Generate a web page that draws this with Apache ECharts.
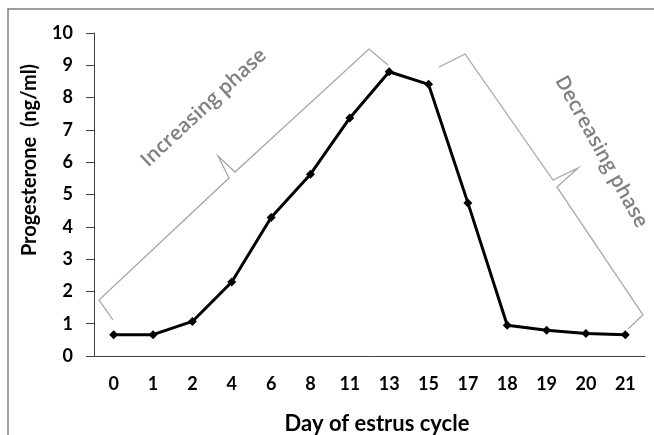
<!DOCTYPE html>
<html>
<head>
<meta charset="utf-8">
<script src="https://cdn.jsdelivr.net/npm/echarts@6/dist/echarts.min.js"></script>
<style>
  html, body { margin: 0; padding: 0; background: #fff; }
  #chart { width: 654px; height: 435px; }
</style>
</head>
<body>
<div id="chart"></div>
<script>
const days = ["0", "1", "2", "4", "6", "8", "11", "13", "15", "17", "18", "19", "20", "21"];
const progesterone = [0.66, 0.66, 1.07, 2.29, 4.29, 5.63, 7.37, 8.8, 8.41, 4.74, 0.95, 0.8, 0.7, 0.66];
const yTicks = [0, 1, 2, 3, 4, 5, 6, 7, 8, 9, 10];

const chart = echarts.init(document.getElementById("chart"));
const axisColor = "#404040";
const braceColor = "#a6a6a6";
const font = "Lato, 'Open Sans', sans-serif";
const phaseFont = "'Open Sans', Lato, sans-serif";

const option = {
  animation: false,
  grid: { left: 94, right: 9, top: 33, bottom: 79 },
  xAxis: {
    type: "category",
    data: days,
    boundaryGap: true,
    axisLine: { lineStyle: { color: axisColor, width: 1 } },
    axisTick: { alignWithLabel: false, length: 6, lineStyle: { color: axisColor } },
    axisLabel: { color: "#000", fontFamily: font, fontWeight: "bold", fontSize: 18, margin: 19 },
    splitLine: { show: false }
  },
  yAxis: {
    type: "value",
    min: yTicks[0],
    max: yTicks[yTicks.length - 1],
    interval: 1,
    axisLine: { show: true, lineStyle: { color: axisColor, width: 1 } },
    axisTick: { show: true, length: 8, lineStyle: { color: axisColor } },
    axisLabel: { color: "#000", fontFamily: font, fontWeight: "bold", fontSize: 18, margin: 21 },
    splitLine: { show: false }
  },
  series: [
    {
      name: "Progesterone",
      type: "line",
      data: progesterone,
      symbol: "diamond",
      symbolSize: 9,
      lineStyle: { color: "#000", width: 3 },
      itemStyle: { color: "#000" }
    }
  ],
  graphic: [
    {
      type: "rect",
      shape: { x: 8, y: 9, width: 700, height: 500 },
      style: { fill: "none", stroke: "#7f7f7f", lineWidth: 1.5 },
      silent: true
    },
    {
      type: "polyline",
      shape: { points: [[113, 320], [99, 300], [229, 178], [218, 156], [235, 172], [369, 49], [388, 65]] },
      style: { fill: "none", stroke: braceColor, lineWidth: 1.3 },
      silent: true
    },
    {
      type: "polyline",
      shape: { points: [[439, 67], [465, 54], [553, 180], [578, 168], [557, 187], [643, 315], [628, 329]] },
      style: { fill: "none", stroke: braceColor, lineWidth: 1.3 },
      silent: true
    },
    {
      type: "text",
      x: 204, y: 108,
      rotation: 43 * Math.PI / 180,
      style: { text: "Increasing phase", fill: "#808080", font: "600 20px " + phaseFont, textAlign: "center", textVerticalAlign: "middle" },
      silent: true
    },
    {
      type: "text",
      x: 601, y: 152,
      rotation: -61 * Math.PI / 180,
      style: { text: "Decreasing phase", fill: "#808080", font: "600 20px " + phaseFont, textAlign: "center", textVerticalAlign: "middle" },
      silent: true
    },
    {
      type: "text",
      x: 30, y: 160,
      rotation: Math.PI / 2,
      style: { text: "Progesterone  (ng/ml)", fill: "#000", font: "bold 20px " + font, textAlign: "center", textVerticalAlign: "middle" },
      silent: true
    },
    {
      type: "text",
      x: 377, y: 424,
      style: { text: "Day of estrus cycle", fill: "#000", font: "bold 22px " + font, textAlign: "center", textVerticalAlign: "middle" },
      silent: true
    }
  ]
};

chart.setOption(option);
</script>
</body>
</html>
